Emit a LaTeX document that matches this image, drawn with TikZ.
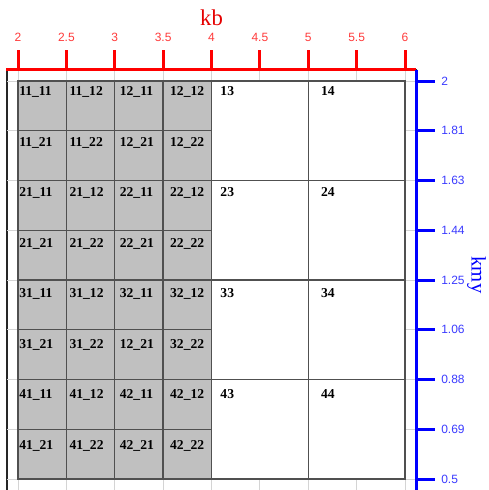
\documentclass[tikz,border=0pt]{standalone}
\usepackage{fontspec}
\setmainfont{Liberation Serif}
\newfontfamily\ticksf{Liberation Sans}
\usetikzlibrary{calc}
\definecolor{cellgray}{HTML}{C0C0C0}
\definecolor{celledge}{HTML}{505050}
\definecolor{gridgray}{HTML}{D4D4D4}
\definecolor{kbred}{HTML}{FF0000}
\definecolor{kbtxt}{HTML}{FF3A3A}
\definecolor{kmyblue}{HTML}{0000FF}
\definecolor{kmytxt}{HTML}{3A3AFF}

\begin{document}
\begin{tikzpicture}[x=0.75pt,y=-0.75pt,
		gridline/.style={draw=gridgray,line width=0.75pt},
		cell/.style={fill=cellgray,draw=celledge,line width=1pt},
		bigcell/.style={fill=white,draw=celledge,line width=1pt},
		lab/.style={anchor=north west,inner sep=0pt,font=\bfseries\fontsize{10.2}{12}\selectfont},
		xlab/.style={inner sep=0pt,text=kbtxt,font=\ticksf\fontsize{9}{10}\selectfont},
		ylab/.style={anchor=west,inner sep=0pt,text=kmytxt,font=\ticksf\fontsize{9}{10}\selectfont}]
			\clip (0,0) rectangle (489,490);
			% frame and light grid
			\draw[black!85,line width=1.5pt] (7,70) rectangle (416,500);
			\foreach \i in {0,...,8} {
				\draw[gridline] ({18+\i*48.375},70) -- ({18+\i*48.375},490);
				\draw[gridline] (7,{81+\i*49.75}) -- (416,{81+\i*49.75});
			}
			% gray sub cells
			\foreach \r in {0,...,7}
				\foreach \c in {0,...,3}
					\draw[cell] ({18+\c*48.375},{81+\r*49.75}) rectangle ++(48.375,49.75);
			% white cells
			\foreach \r in {0,...,3}
				\foreach \c in {0,1}
					\draw[bigcell] ({211.5+\c*96.75},{81+\r*99.5}) rectangle ++(96.75,99.5);
			% cell labels
			\foreach \r/\ta/\tb/\tc/\td in {0/11\_11/11\_12/12\_11/12\_12,1/11\_21/11\_22/12\_21/12\_22,
					2/21\_11/21\_12/22\_11/22\_12,3/21\_21/21\_22/22\_21/22\_22,
					4/31\_11/31\_12/32\_11/32\_12,5/31\_21/31\_22/12\_21/32\_22,
					6/41\_11/41\_12/42\_11/42\_12,7/41\_21/41\_22/42\_21/42\_22} {
				\node[lab] (c\r a) at (19,{86.7+\r*50.5}) {\ta};
				\node[lab] (c\r b) at (69.3,{86.7+\r*50.5}) {\tb};
				\node[lab] (c\r c) at (119.6,{86.7+\r*50.5}) {\tc};
				\node[lab] (c\r d) at (169.9,{86.7+\r*50.5}) {\td};
			}
			\foreach \r/\ta/\tb in {0/13/14,2/23/24,4/33/34,6/43/44} {
				\node[lab] (w\r a) at (220.2,{86.7+\r*50.5}) {\ta};
				\node[lab] (w\r b) at (320.8,{86.7+\r*50.5}) {\tb};
			}
			% kb axis
			\draw[kbred,line width=2pt] (6,69.5) -- (416,69.5);
			\foreach \i/\v in {0/2,1/2.5,2/3,3/3.5,4/4,5/4.5,6/5,7/5.5,8/6} {
				\draw[kbred,line width=2.25pt] ({18+\i*48.375},50) -- ({18+\i*48.375},69.5);
				\node[xlab] (kx\i) at ({18+\i*48.375},37) {\v};
			}
			\node[inner sep=0pt,text=kbred!90!black,font=\fontsize{17}{20}\selectfont] (kb) at (211.5,18) {kb};
			% kmy axis
			\draw[kmyblue,line width=2.25pt] (416,69.5) -- (416,490);
			\foreach \i/\v in {0/2,1/1.81,2/1.63,3/1.44,4/1.25,5/1.06,6/0.88,7/0.69,8/0.5} {
				\draw[kmyblue,line width=2.25pt] (416,{81+\i*49.75}) -- (435,{81+\i*49.75});
				\node[ylab] (ky\i) at (441,{81+\i*49.75}) {\v};
			}
			\node[inner sep=0pt,rotate=-90,text=kmyblue,font=\fontsize{15.5}{18}\selectfont] (kmy) at (476.5,275) {kmy};
		\end{tikzpicture}
\end{document}
